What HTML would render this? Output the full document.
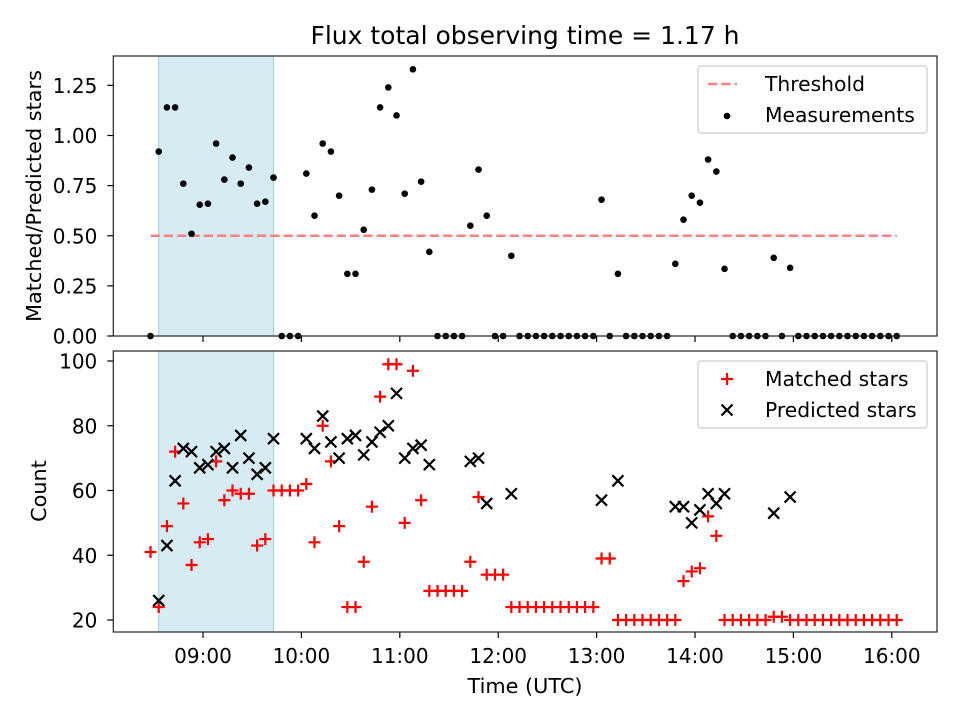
<!DOCTYPE html>
<html><head><meta charset="utf-8">
<style>
html,body{margin:0;padding:0;background:#fff;}
svg{display:block;font-family:"DejaVu Sans","Liberation Sans",sans-serif;}
</style></head>
<body>
<svg id="chart" width="960" height="720" xmlns="http://www.w3.org/2000/svg">
<text x="525" y="44" font-size="25" text-anchor="middle">Flux total observing time = 1.17 h</text>
<g id="topPanel"></g>
<g id="botPanel"></g>
<text transform="translate(41,196) rotate(-90)" font-size="20.8" text-anchor="middle">Matched/Predicted stars</text>
<text transform="translate(46,491) rotate(-90)" font-size="20.8" text-anchor="middle">Count</text>
<text x="525" y="693" font-size="20.8" text-anchor="middle">Time (UTC)</text>
</svg>
<script>
const times = ["08:28","08:33","08:38","08:43","08:48","08:53","08:58","09:03","09:08","09:13","09:18","09:23","09:28","09:33","09:38","09:43","09:48","09:53","09:58","10:03","10:08","10:13","10:18","10:23","10:28","10:33","10:38","10:43","10:48","10:53","10:58","11:03","11:08","11:13","11:18","11:23","11:28","11:33","11:38","11:43","11:48","11:53","11:58","12:03","12:08","12:13","12:18","12:23","12:28","12:33","12:38","12:43","12:48","12:53","12:58","13:03","13:08","13:13","13:18","13:23","13:28","13:33","13:38","13:43","13:48","13:53","13:58","14:03","14:08","14:13","14:18","14:23","14:28","14:33","14:38","14:43","14:48","14:53","14:58","15:03","15:08","15:13","15:18","15:23","15:28","15:33","15:38","15:43","15:48","15:53","15:58","16:03"];
const ratio = [0,0.92,1.14,1.14,0.76,0.51,0.655,0.66,0.96,0.78,0.89,0.76,0.84,0.66,0.67,0.79,0,0,0,0.81,0.60,0.96,0.92,0.70,0.31,0.31,0.53,0.73,1.14,1.24,1.10,0.71,1.33,0.77,0.42,0,0,0,0,0.55,0.83,0.60,0,0,0.40,0,0,0,0,0,0,0,0,0,0,0.68,0,0.31,0,0,0,0,0,0,0.36,0.58,0.70,0.665,0.88,0.82,0.335,0,0,0,0,0,0.39,0,0.34,0,0,0,0,0,0,0,0,0,0,0,0,0];
const matched = [41,24,49,72,56,37,44,45,69,57,60,59,59,43,45,60,60,60,60,62,44,80,69,49,24,24,38,55,89,99,99,50,97,57,29,29,29,29,29,38,58,34,34,34,24,24,24,24,24,24,24,24,24,24,24,39,39,20,20,20,20,20,20,20,20,32,35,36,52,46,20,20,20,20,20,20,21,21,20,20,20,20,20,20,20,20,20,20,20,20,20,20];
const predicted = [null,26,43,63,73,72,67,68,72,73,67,77,70,65,67,76,null,null,null,76,73,83,75,70,76,77,71,75,78,80,90,70,73,74,68,null,null,null,null,69,70,56,null,null,59,null,null,null,null,null,null,null,null,null,null,57,null,63,null,null,null,null,null,null,55,55,50,54,59,56,59,null,null,null,null,null,53,null,58,null,null,null,null,null,null,null,null,null,null,null,null,null];
const threshold = 0.5;
const shadeSpan = ["08:33","09:43"];
const xTicks = ["09:00","10:00","11:00","12:00","13:00","14:00","15:00","16:00"];
const ratioTicks = [0,0.25,0.5,0.75,1.0,1.25];
const countTicks = [20,40,60,80,100];

const NS="http://www.w3.org/2000/svg";
const L=113.3,R=937;
const T1=56,B1=336,T2=351,B2=632;
const TF=20;
function hrs(s){const p=s.split(":");return +p[0]+(+p[1])/60;}
function X(s){return 203+98.4*(hrs(s)-9);}
function Y1(v){return 336-200.5*v;}
function Y2(v){return 620-3.2375*(v-20);}
function mk(tag,attrs,parent){const e=document.createElementNS(NS,tag);for(const k in attrs)e.setAttribute(k,attrs[k]);parent.appendChild(e);return e;}
const topG=document.getElementById('topPanel'),botG=document.getElementById('botPanel');

[[topG,T1,B1],[botG,T2,B2]].forEach(([g,t,b],pi)=>{
  const sh=mk('rect',{x:X(shadeSpan[0]),y:t,width:X(shadeSpan[1])-X(shadeSpan[0]),height:b-t,fill:'#add8e6','fill-opacity':0.5,stroke:'#9fcfdf','stroke-width':1},g);
  
  
  xTicks.forEach(tk=>{
    const l=mk('line',{x1:X(tk),x2:X(tk),y1:b,y2:b+6,stroke:'#000','stroke-width':1.2},g);
    
    
    if(pi===1){
      const tx=mk('text',{x:X(tk),y:b+31,'font-size':TF,'text-anchor':'middle'},g);
      tx.textContent=tk;
      
      
    }
  });
});
ratioTicks.forEach(v=>{
  mk('line',{x1:L-6,x2:L,y1:Y1(v),y2:Y1(v),stroke:'#000','stroke-width':1.2},topG);
  const tx=mk('text',{x:L-16,y:Y1(v)+7.5,'font-size':TF,'text-anchor':'end'},topG);
  tx.textContent=v.toFixed(2);
  
  
});
countTicks.forEach(v=>{
  mk('line',{x1:L-6,x2:L,y1:Y2(v),y2:Y2(v),stroke:'#000','stroke-width':1.2},botG);
  const tx=mk('text',{x:L-16,y:Y2(v)+7.5,'font-size':TF,'text-anchor':'end'},botG);
  tx.textContent=String(v);
  
  
});
const th=mk('line',{x1:X(times[0]),x2:X(times[times.length-1]),y1:Y1(threshold),y2:Y1(threshold),stroke:'#ff8080','stroke-width':2.5,'stroke-dasharray':'9.3,4'},topG);


ratio.forEach((v,i)=>{
  const c=mk('circle',{cx:X(times[i]),cy:Y1(v),r:3.3,fill:'#000'},topG);
  
  
});
matched.forEach((v,i)=>{
  const x=X(times[i]),y=Y2(v);
  const p=mk('path',{d:`M${x-6},${y}H${x+6}M${x},${y-6}V${y+6}`,stroke:'#f00','stroke-width':2.2,fill:'none'},botG);
  
  
});
predicted.forEach((v,i)=>{
  if(v===null)return;
  const x=X(times[i]),y=Y2(v);
  const p=mk('path',{d:`M${x-5.5},${y-5.5}L${x+5.5},${y+5.5}M${x-5.5},${y+5.5}L${x+5.5},${y-5.5}`,stroke:'#000','stroke-width':2.2,fill:'none'},botG);
  
  
});
[[topG,T1,B1],[botG,T2,B2]].forEach(([g,t,b])=>{
  const f=mk('rect',{x:L,y:t,width:R-L,height:b-t,fill:'none',stroke:'#222','stroke-width':1.2},g);
  
  
});
function legend(g,y0,items){
  const box=mk('rect',{x:698,y:y0,width:229,height:67,rx:3,fill:'#fff','fill-opacity':0.8,stroke:'#ccc','stroke-width':1.2},g);
  
  
  items.forEach((it,k)=>{
    const y=y0+18+k*31;
    it.draw(g,727,y);
    const tx=mk('text',{x:765,y:y+7,'font-size':20.3},g);
    tx.textContent=it.label;
    
    
  });
}
legend(topG,66,[
  {label:'Threshold',draw:(g,x,y)=>mk('line',{x1:708,x2:737,y1:y,y2:y,stroke:'#ff8080','stroke-width':2.5,'stroke-dasharray':'9.3,4'},g)},
  {label:'Measurements',draw:(g,x,y)=>mk('circle',{cx:x,cy:y+1,r:3.3,fill:'#000'},g)}
]);
legend(botG,361,[
  {label:'Matched stars',draw:(g,x,y)=>mk('path',{d:`M${x-6},${y}H${x+6}M${x},${y-6}V${y+6}`,stroke:'#f00','stroke-width':2.2},g)},
  {label:'Predicted stars',draw:(g,x,y)=>mk('path',{d:`M${x-5.5},${y-5.5}L${x+5.5},${y+5.5}M${x-5.5},${y+5.5}L${x+5.5},${y-5.5}`,stroke:'#000','stroke-width':2.2},g)}
]);
</script>
</body></html>
